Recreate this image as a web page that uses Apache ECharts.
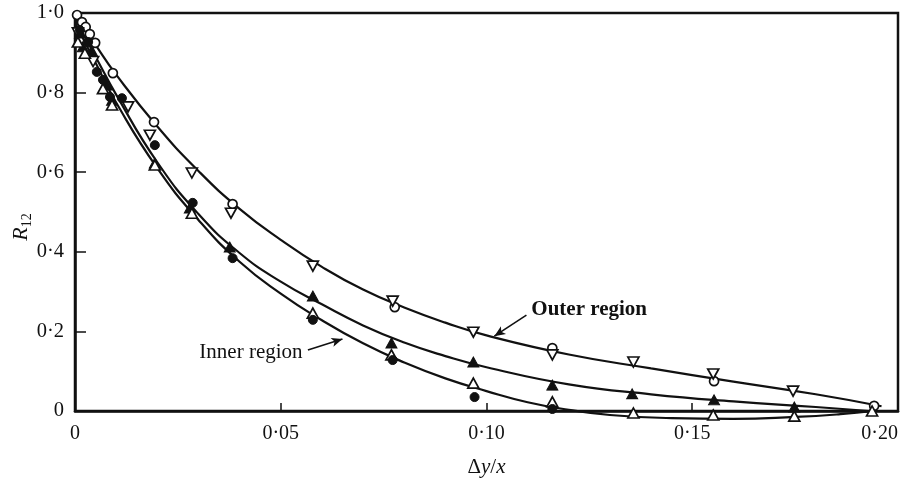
<!DOCTYPE html>
<html>
<head>
<meta charset="utf-8">
<script src="https://cdn.jsdelivr.net/npm/echarts@6/dist/echarts.min.js"></script>
<style>
  html, body { margin: 0; padding: 0; background: #ffffff; }
  #chart { width: 913px; height: 483px; }
</style>
</head>
<body>
<div id="chart"></div>
<script>
// Tick labels (typeset with a raised decimal point)
const xTickLabels = ['0', '0·05', '0·10', '0·15', '0·20'];
const yTickLabels = ['0', '0·2', '0·4', '0·6', '0·8', '1·0'];

// Measured correlation R12 against separation Δy/x
// Outer region: open circles and open inverted triangles
const outerCircles = [
  [0.0005, 0.995], [0.0017, 0.977], [0.0026, 0.965], [0.0036, 0.947], [0.0049, 0.925],
  [0.0092, 0.849], [0.0192, 0.726], [0.0383, 0.520], [0.0777, 0.261], [0.1160, 0.158],
  [0.1553, 0.075], [0.1942, 0.013]
];
const outerTrianglesDown = [
  [0.0007, 0.950], [0.0044, 0.878], [0.0129, 0.764], [0.0182, 0.693], [0.0284, 0.598],
  [0.0379, 0.497], [0.0578, 0.364], [0.0772, 0.276], [0.0968, 0.198], [0.1160, 0.141],
  [0.1357, 0.123], [0.1551, 0.093], [0.1745, 0.050]
];
// Intermediate series: filled triangles
const filledTriangles = [
  [0.0012, 0.950], [0.0019, 0.915], [0.0041, 0.905], [0.0078, 0.819], [0.0090, 0.781],
  [0.0194, 0.623], [0.0279, 0.510], [0.0376, 0.412], [0.0578, 0.289], [0.0769, 0.171],
  [0.0968, 0.123], [0.1160, 0.065], [0.1354, 0.043], [0.1553, 0.028], [0.1748, 0.010]
];
// Inner region: open triangles and filled circles
const openTriangles = [
  [0.0007, 0.927], [0.0024, 0.899], [0.0068, 0.810], [0.0090, 0.769], [0.0194, 0.618],
  [0.0284, 0.497], [0.0578, 0.246], [0.0769, 0.141], [0.0968, 0.070], [0.1160, 0.023],
  [0.1357, -0.005], [0.1551, -0.010], [0.1748, -0.013], [0.1937, 0.000]
];
const filledCircles = [
  [0.0012, 0.957], [0.0032, 0.927], [0.0053, 0.852], [0.0068, 0.832], [0.0085, 0.789],
  [0.0114, 0.786], [0.0194, 0.668], [0.0286, 0.523], [0.0383, 0.384], [0.0578, 0.229],
  [0.0772, 0.128], [0.0971, 0.035], [0.1160, 0.005]
];

// Fitted curves
const outerCurve = [
  [0, 1.0], [0.005, 0.92], [0.01, 0.845], [0.02, 0.715], [0.03, 0.603], [0.04, 0.508],
  [0.05, 0.43], [0.06, 0.362], [0.07, 0.305], [0.08, 0.26], [0.09, 0.222], [0.10, 0.19],
  [0.12, 0.142], [0.14, 0.107], [0.16, 0.074], [0.18, 0.042], [0.196, 0.012]
];
const middleCurve = [
  [0, 0.985], [0.005, 0.89], [0.01, 0.795], [0.02, 0.625], [0.03, 0.495], [0.04, 0.397],
  [0.05, 0.325], [0.06, 0.268], [0.07, 0.215], [0.08, 0.172], [0.09, 0.138], [0.10, 0.11],
  [0.12, 0.067], [0.14, 0.042], [0.16, 0.024], [0.18, 0.01], [0.193, 0.0]
];
const innerCurve = [
  [0, 0.975], [0.005, 0.875], [0.01, 0.775], [0.02, 0.61], [0.03, 0.48], [0.04, 0.375],
  [0.05, 0.295], [0.06, 0.228], [0.07, 0.17], [0.08, 0.122], [0.09, 0.082], [0.10, 0.05],
  [0.11, 0.022], [0.12, 0.003], [0.13, -0.01], [0.145, -0.018], [0.16, -0.02],
  [0.175, -0.015], [0.186, -0.008], [0.194, 0.0]
];

// Curve annotations: label anchor, arrow tail and arrow head (data coordinates)
const annotationTexts = ['Outer region', 'Inner region'];
const annotationAnchors = [[0.1109, 0.254], [0.0553, 0.146]];
const arrowTails = [[0.1097, 0.241], [0.0566, 0.153]];
const arrowHeads = [[0.1019, 0.188], [0.0650, 0.181]];

const FONT = '"Liberation Serif", "Times New Roman", serif';
const INK = '#111111';

function curveSeries(data) {
  return {
    type: 'line', data: data, smooth: true, showSymbol: false, clip: false, silent: true,
    lineStyle: { color: INK, width: 2.2, opacity: 1 }, z: 2
  };
}
function markerSeries(data, symbol, filled, size, rotate) {
  return {
    type: 'scatter', data: data, symbol: symbol, symbolSize: size, symbolRotate: rotate || 0,
    clip: false, silent: true, z: 5,
    itemStyle: filled
      ? { color: INK, borderColor: INK, borderWidth: 1, opacity: 1 }
      : { color: '#ffffff', borderColor: INK, borderWidth: 1.7, opacity: 1 }
  };
}

const chart = echarts.init(document.getElementById('chart'), null, { renderer: 'canvas' });

chart.setOption({
  animation: false,
  backgroundColor: '#ffffff',
  grid: {
    left: 75, right: 15, top: 13, bottom: 72, outerBoundsMode: 'none',
    show: true, borderColor: INK, borderWidth: 2.5, backgroundColor: 'transparent'
  },
  xAxis: {
    type: 'value', min: 0, max: 0.2, interval: 0.05,
    axisLine: { show: true, lineStyle: { color: INK, width: 2.5 } },
    axisTick: { show: true, inside: true, length: 8, lineStyle: { color: INK, width: 1.5 } },
    splitLine: { show: false },
    axisLabel: {
      margin: 13, color: INK, fontFamily: FONT, fontSize: 20, alignMaxLabel: 'right',
      formatter: v => xTickLabels[Math.round(v / 0.05)]
    },
    name: '{n|Δ}{i|y}{n|/}{i|x}', nameLocation: 'middle', nameGap: 46, nameMoveOverlap: false,
    nameTextStyle: {
      rich: {
        n: { fontFamily: FONT, fontSize: 21, color: INK },
        i: { fontFamily: FONT, fontSize: 21, color: INK, fontStyle: 'italic' }
      }
    }
  },
  yAxis: {
    type: 'value', min: 0, max: 1.0, interval: 0.2,
    axisLine: { show: true, lineStyle: { color: INK, width: 2.5 } },
    axisTick: { show: true, inside: true, length: 11, lineStyle: { color: INK, width: 1.5 } },
    splitLine: { show: false },
    axisLabel: {
      margin: 11, color: INK, fontFamily: FONT, fontSize: 20.5,
      formatter: v => yTickLabels[Math.round(v / 0.2)]
    },
    name: '{r|R}{s|12}', nameLocation: 'middle', nameGap: 41, nameRotate: 90, nameMoveOverlap: false,
    nameTextStyle: {
      padding: [0, 30, 0, 0],
      rich: {
        r: { fontFamily: FONT, fontSize: 22, color: INK, fontStyle: 'italic', lineHeight: 26 },
        s: { fontFamily: FONT, fontSize: 14, color: INK, lineHeight: 14, verticalAlign: 'bottom' }
      }
    }
  },
  series: [
    curveSeries(outerCurve),
    curveSeries(middleCurve),
    curveSeries(innerCurve),
    markerSeries(outerCircles, 'circle', false, 9),
    markerSeries(outerTrianglesDown, 'triangle', false, [11, 10], 180),
    markerSeries(filledTriangles, 'triangle', true, [11, 10]),
    markerSeries(openTriangles, 'triangle', false, [11, 10]),
    markerSeries(filledCircles, 'circle', true, 9),
    {
      // region labels with leader arrows
      type: 'scatter', symbolSize: 0, silent: true, clip: false, z: 6,
      itemStyle: { opacity: 1 },
      data: annotationTexts.map((t, i) => ({
        value: annotationAnchors[i], name: t,
        label: {
          show: true, formatter: '{b}', position: i === 0 ? 'right' : 'left', distance: 0,
          fontFamily: FONT, fontSize: 21, color: INK, opacity: 1,
          fontWeight: i === 0 ? 'bold' : 'normal'
        }
      })),
      markLine: {
        silent: true, symbol: ['none', 'arrow'], symbolSize: [7, 11],
        lineStyle: { color: INK, width: 1.6, type: 'solid', opacity: 1 },
        label: { show: false },
        data: arrowTails.map((tail, i) => [{ coord: tail }, { coord: arrowHeads[i] }])
      }
    }
  ]
});
</script>
</body>
</html>
